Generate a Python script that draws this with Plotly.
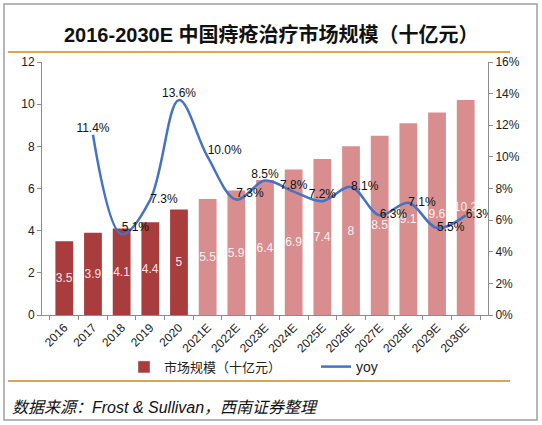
import plotly.graph_objects as go

# data
years = ['2016', '2017', '2018', '2019', '2020', '2021E', '2022E', '2023E',
         '2024E', '2025E', '2026E', '2027E', '2028E', '2029E', '2030E']
market_size = [3.5, 3.9, 4.1, 4.4, 5, 5.5, 5.9, 6.4, 6.9, 7.4, 8, 8.5, 9.1, 9.6, 10.2]
yoy = [None, 0.114, 0.051, 0.073, 0.136, 0.100, 0.073, 0.085, 0.078, 0.072,
       0.081, 0.063, 0.071, 0.055, 0.063]
yoy_labels = ['', '11.4%', '5.1%', '7.3%', '13.6%', '10.0%', '7.3%', '8.5%', '7.8%',
              '7.2%', '8.1%', '6.3%', '7.1%', '5.5%', '6.3%']
yoy_pos = ['top center', 'top center', 'top right', 'middle right', 'top center',
           'top right', 'top right', 'top center', 'top center', 'top center',
           'middle right', 'middle right', 'middle right', 'middle right', 'middle right']

dark_red = '#A93C3C'
light_red = '#D88E8E'
bar_colors = [dark_red if not y.endswith('E') else light_red for y in years]

FONT = 'Liberation Sans, Arial, Noto Sans CJK SC'

# plot area in pixels (for placing the frame / title outside it)
L, R, T, B = 42, 488, 62, 315
def px(x):
    return (x - L) / (R - L)
def py(y):
    return (B - y) / (B - T)

fig = go.Figure()

fig.add_trace(go.Bar(
    x=years, y=market_size, name='市场规模（十亿元）',
    marker_color=bar_colors, marker_line_width=0,
    text=[f'{v:g}' for v in market_size], textposition='inside',
    insidetextanchor='middle', textangle=0,
    textfont=dict(color='rgba(255,255,255,0.9)', size=12, family=FONT),
    showlegend=False,
))
# legend entry uses the dark colour only
fig.add_trace(go.Bar(x=[None], y=[None], name='市场规模（十亿元）',
                     marker_color=dark_red, showlegend=True, legend='legend'))

fig.add_trace(go.Scatter(
    x=years, y=yoy, name='yoy', yaxis='y2', mode='lines+text',
    line=dict(color='#4472C4', width=2.5, shape='spline', smoothing=1.0),
    text=yoy_labels, textposition=yoy_pos,
    textfont=dict(color='#111111', size=12, family=FONT),
    legend='legend2',
))

fig.update_layout(
    width=542, height=425,
    margin=dict(l=L, r=542 - R, t=T, b=425 - B),
    paper_bgcolor='white', plot_bgcolor='white',
    font=dict(family=FONT, color='#222222', size=12),
    bargap=0.38,
    uniformtext=dict(minsize=12, mode='show'),
    xaxis=dict(tickangle=-45, showline=True, linecolor='#8c8c8c',
               ticks='outside', ticklen=4, tickcolor='#8c8c8c',
               tickson='boundaries', tickfont=dict(size=12), automargin=False),
    yaxis=dict(range=[0, 12], dtick=2, showgrid=False, showline=True,
               linecolor='#8c8c8c', ticks='outside', ticklen=4,
               tickcolor='#8c8c8c', zeroline=False, tickfont=dict(size=12),
               automargin=False),
    yaxis2=dict(range=[0, 0.16], dtick=0.02, tickformat='.0%', overlaying='y',
                side='right', showgrid=False, showline=True, linecolor='#8c8c8c',
                ticks='outside', ticklen=4, tickcolor='#8c8c8c',
                zeroline=False, tickfont=dict(size=12), automargin=False),
    legend=dict(orientation='h', x=px(124), y=py(367), xanchor='left',
                yanchor='middle', font=dict(size=13), bgcolor='rgba(0,0,0,0)'),
    legend2=dict(orientation='h', x=px(316), y=py(367), xanchor='left',
                 yanchor='middle', font=dict(size=14), bgcolor='rgba(0,0,0,0)'),
)

# title, source note and decorative lines
fig.add_annotation(x=px(271), y=py(35), xref='paper', yref='paper', yanchor='middle',
                   text='<b>2016-2030E 中国痔疮治疗市场规模（十亿元）</b>',
                   showarrow=False, font=dict(size=20, color='#111111'))
fig.add_annotation(x=px(10), y=py(407), xref='paper', yref='paper', xanchor='left',
                   yanchor='middle',
                   text='<i>数据来源：Frost &amp; Sullivan，西南证券整理</i>',
                   showarrow=False, font=dict(size=16, color='#111111'))
for yy in (52, 381):
    fig.add_shape(type='line', xref='paper', yref='paper',
                  x0=px(8), x1=px(510), y0=py(yy), y1=py(yy),
                  line=dict(color='#D9A550', width=2))
fig.add_shape(type='rect', xref='paper', yref='paper',
              x0=px(4), x1=px(537), y0=py(4), y1=py(420),
              line=dict(color='#a0a0a0', width=1.5))

# page has a default body margin, drop it so the figure sits at 0,0
fig.write_html('out.html', config={'displayModeBar': False},
               post_script="document.body.style.margin='0';")
